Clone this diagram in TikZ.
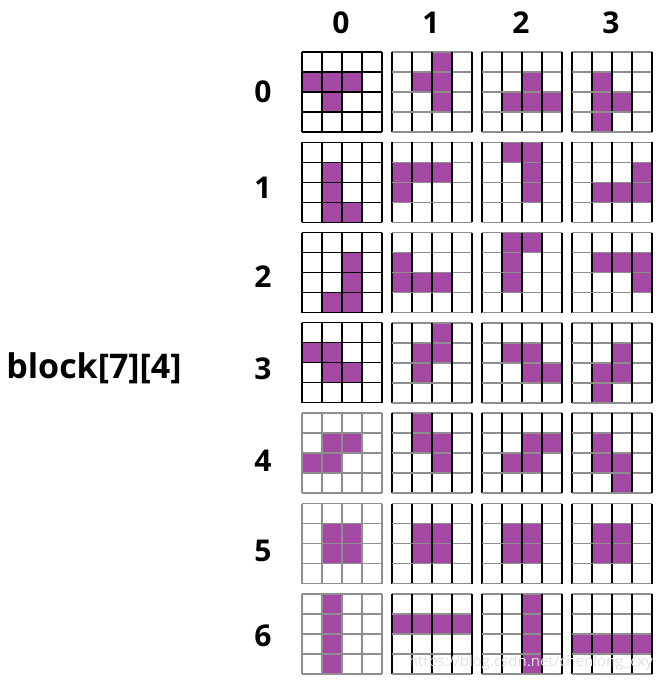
\documentclass[tikz,border=0pt]{standalone}
\usepackage{fontspec}
\setmainfont{Open Sans}
\definecolor{tetro}{HTML}{A349A4}
\definecolor{gline}{HTML}{8E8E8E}

% one 4x4 board: #1 column, #2 row, #3 filled cells (row/col), #4 horizontal lines, #5 vertical lines
\newcommand{\board}[5]{%
  \begin{scope}[shift={(302+90*#1,52+90.3*#2)}]
    \foreach \r/\c in {#3} \fill[tetro] (20*\c,20*\r) rectangle ++(20,20);
    \foreach \i in {0,...,4} {
      \draw[#4] (0,20*\i) -- (80,20*\i);
      \draw[#5] (20*\i,0) -- (20*\i,80);}
  \end{scope}}

\begin{document}
\begin{tikzpicture}[x=1pt, y=-1pt,
  bk/.style={draw=black, line width=1.1pt},
  gr/.style={draw=gline, line width=1.5pt},
  num/.style={font=\fontsize{30}{33}\selectfont\bfseries, inner sep=0pt}]
\useasboundingbox (0,0) rectangle (662,683);

% column and row indices
\foreach \c in {0,...,3}
  \node[num] (col\c) at (341+90*\c, 23) {\c};
\foreach \r/\y in {0/92,1/188,2/277,3/369,4/461,5/551,6/636}
  \node[num] (row\r) at (263, \y) {\r};
\node[font=\fontsize{34}{37}\selectfont\bfseries, inner sep=0pt] (title) at (94, 368) {block[7][4]};

% row 0
\board{0}{0}{1/0,1/1,1/2,2/1}{bk}{bk}
\board{1}{0}{0/2,1/1,1/2,2/2}{gr}{bk}
\board{2}{0}{1/2,2/1,2/2,2/3}{gr}{bk}
\board{3}{0}{1/1,2/1,2/2,3/1}{gr}{bk}
% row 1
\board{0}{1}{1/1,2/1,3/1,3/2}{bk}{bk}
\board{1}{1}{1/0,1/1,1/2,2/0}{gr}{bk}
\board{2}{1}{0/1,0/2,1/2,2/2}{gr}{bk}
\board{3}{1}{1/3,2/1,2/2,2/3}{gr}{bk}
% row 2
\board{0}{2}{1/2,2/2,3/1,3/2}{bk}{bk}
\board{1}{2}{1/0,2/0,2/1,2/2}{gr}{bk}
\board{2}{2}{0/1,0/2,1/1,2/1}{gr}{bk}
\board{3}{2}{1/1,1/2,1/3,2/3}{gr}{bk}
% row 3
\board{0}{3}{1/0,1/1,2/1,2/2}{bk}{bk}
\board{1}{3}{0/2,1/1,1/2,2/1}{gr}{bk}
\board{2}{3}{1/1,1/2,2/2,2/3}{gr}{bk}
\board{3}{3}{1/2,2/1,2/2,3/1}{gr}{bk}
% row 4
\board{0}{4}{1/1,1/2,2/0,2/1}{gr}{gr}
\board{1}{4}{0/1,1/1,1/2,2/2}{gr}{bk}
\board{2}{4}{1/2,1/3,2/1,2/2}{gr}{bk}
\board{3}{4}{1/1,2/1,2/2,3/2}{gr}{bk}
% row 5
\board{0}{5}{1/1,1/2,2/1,2/2}{gr}{gr}
\board{1}{5}{1/1,1/2,2/1,2/2}{gr}{bk}
\board{2}{5}{1/1,1/2,2/1,2/2}{gr}{bk}
\board{3}{5}{1/1,1/2,2/1,2/2}{gr}{bk}
% row 6
\board{0}{6}{0/1,1/1,2/1,3/1}{gr}{gr}
\board{1}{6}{1/0,1/1,1/2,1/3}{gr}{bk}
\board{2}{6}{0/2,1/2,2/2,3/2}{gr}{bk}
\board{3}{6}{2/0,2/1,2/2,2/3}{gr}{bk}

\node[font=\fontsize{15}{17}\selectfont, text=black!12, anchor=east, inner sep=0pt] (mark) at (653, 663) {https://blog.csdn.net/chenlong\_cxy};
\end{tikzpicture}
\end{document}
